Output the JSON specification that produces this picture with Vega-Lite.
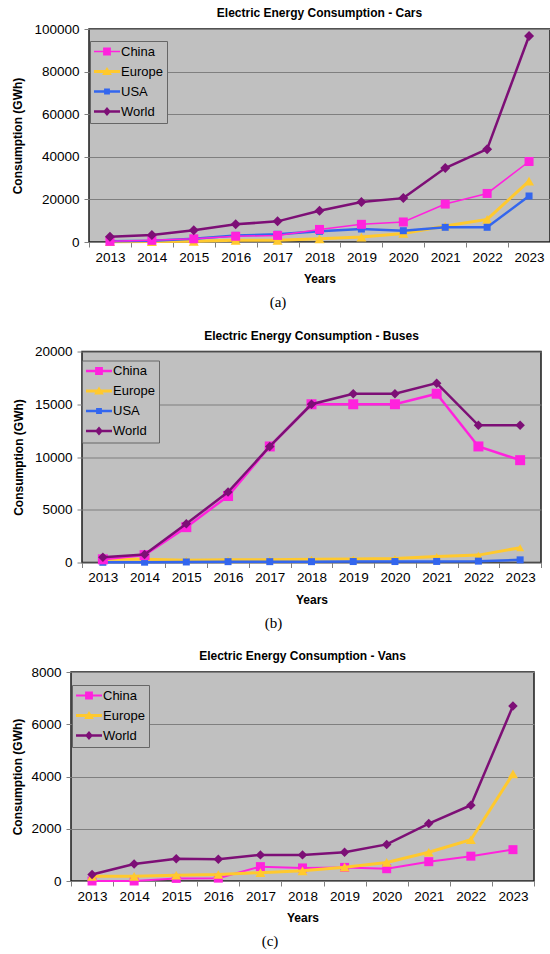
{
  "$schema": "https://vega.github.io/schema/vega-lite/v6.json",
  "background": "white",
  "padding": {"left": 4, "top": 6, "right": 4, "bottom": 4},
  "columns": 1,
  "spacing": 17.5,
  "resolve": {
    "scale": {"color": "independent", "shape": "independent"},
    "legend": {"color": "independent", "shape": "independent"}
  },
  "datasets": {
    "cars": [
      {"year": 2013, "region": "China", "value": 300}, {"year": 2013, "region": "Europe", "value": 100}, {"year": 2013, "region": "USA", "value": 300}, {"year": 2013, "region": "World", "value": 2500},
      {"year": 2014, "region": "China", "value": 800}, {"year": 2014, "region": "Europe", "value": 200}, {"year": 2014, "region": "USA", "value": 600}, {"year": 2014, "region": "World", "value": 3300},
      {"year": 2015, "region": "China", "value": 1500}, {"year": 2015, "region": "Europe", "value": 300}, {"year": 2015, "region": "USA", "value": 1500}, {"year": 2015, "region": "World", "value": 5500},
      {"year": 2016, "region": "China", "value": 2700}, {"year": 2016, "region": "Europe", "value": 800}, {"year": 2016, "region": "USA", "value": 3100}, {"year": 2016, "region": "World", "value": 8300},
      {"year": 2017, "region": "China", "value": 3100}, {"year": 2017, "region": "Europe", "value": 800}, {"year": 2017, "region": "USA", "value": 3600}, {"year": 2017, "region": "World", "value": 9700},
      {"year": 2018, "region": "China", "value": 5900}, {"year": 2018, "region": "Europe", "value": 1500}, {"year": 2018, "region": "USA", "value": 5000}, {"year": 2018, "region": "World", "value": 14700},
      {"year": 2019, "region": "China", "value": 8300}, {"year": 2019, "region": "Europe", "value": 2300}, {"year": 2019, "region": "USA", "value": 6100}, {"year": 2019, "region": "World", "value": 18800},
      {"year": 2020, "region": "China", "value": 9400}, {"year": 2020, "region": "Europe", "value": 4000}, {"year": 2020, "region": "USA", "value": 5300}, {"year": 2020, "region": "World", "value": 20600},
      {"year": 2021, "region": "China", "value": 17800}, {"year": 2021, "region": "Europe", "value": 7500}, {"year": 2021, "region": "USA", "value": 6900}, {"year": 2021, "region": "World", "value": 34700},
      {"year": 2022, "region": "China", "value": 22800}, {"year": 2022, "region": "Europe", "value": 10600}, {"year": 2022, "region": "USA", "value": 6900}, {"year": 2022, "region": "World", "value": 43600},
      {"year": 2023, "region": "China", "value": 37800}, {"year": 2023, "region": "Europe", "value": 28600}, {"year": 2023, "region": "USA", "value": 21600}, {"year": 2023, "region": "World", "value": 96700}
    ],
    "buses": [
      {"year": 2013, "region": "China", "value": 300}, {"year": 2013, "region": "Europe", "value": 300}, {"year": 2013, "region": "USA", "value": 20}, {"year": 2013, "region": "World", "value": 500},
      {"year": 2014, "region": "China", "value": 700}, {"year": 2014, "region": "Europe", "value": 300}, {"year": 2014, "region": "USA", "value": 30}, {"year": 2014, "region": "World", "value": 760},
      {"year": 2015, "region": "China", "value": 3350}, {"year": 2015, "region": "Europe", "value": 220}, {"year": 2015, "region": "USA", "value": 50}, {"year": 2015, "region": "World", "value": 3670},
      {"year": 2016, "region": "China", "value": 6300}, {"year": 2016, "region": "Europe", "value": 250}, {"year": 2016, "region": "USA", "value": 80}, {"year": 2016, "region": "World", "value": 6680},
      {"year": 2017, "region": "China", "value": 11000}, {"year": 2017, "region": "Europe", "value": 250}, {"year": 2017, "region": "USA", "value": 80}, {"year": 2017, "region": "World", "value": 11000},
      {"year": 2018, "region": "China", "value": 15000}, {"year": 2018, "region": "Europe", "value": 300}, {"year": 2018, "region": "USA", "value": 80}, {"year": 2018, "region": "World", "value": 15000},
      {"year": 2019, "region": "China", "value": 15000}, {"year": 2019, "region": "Europe", "value": 320}, {"year": 2019, "region": "USA", "value": 90}, {"year": 2019, "region": "World", "value": 16000},
      {"year": 2020, "region": "China", "value": 15000}, {"year": 2020, "region": "Europe", "value": 380}, {"year": 2020, "region": "USA", "value": 90}, {"year": 2020, "region": "World", "value": 16000},
      {"year": 2021, "region": "China", "value": 16000}, {"year": 2021, "region": "Europe", "value": 570}, {"year": 2021, "region": "USA", "value": 100}, {"year": 2021, "region": "World", "value": 17000},
      {"year": 2022, "region": "China", "value": 11000}, {"year": 2022, "region": "Europe", "value": 700}, {"year": 2022, "region": "USA", "value": 130}, {"year": 2022, "region": "World", "value": 13000},
      {"year": 2023, "region": "China", "value": 9700}, {"year": 2023, "region": "Europe", "value": 1400}, {"year": 2023, "region": "USA", "value": 250}, {"year": 2023, "region": "World", "value": 13000}
    ],
    "vans": [
      {"year": 2013, "region": "China", "value": 0}, {"year": 2013, "region": "Europe", "value": 180}, {"year": 2013, "region": "World", "value": 250},
      {"year": 2014, "region": "China", "value": 0}, {"year": 2014, "region": "Europe", "value": 180}, {"year": 2014, "region": "World", "value": 650},
      {"year": 2015, "region": "China", "value": 100}, {"year": 2015, "region": "Europe", "value": 220}, {"year": 2015, "region": "World", "value": 850},
      {"year": 2016, "region": "China", "value": 110}, {"year": 2016, "region": "Europe", "value": 250}, {"year": 2016, "region": "World", "value": 830},
      {"year": 2017, "region": "China", "value": 550}, {"year": 2017, "region": "Europe", "value": 320}, {"year": 2017, "region": "World", "value": 1000},
      {"year": 2018, "region": "China", "value": 500}, {"year": 2018, "region": "Europe", "value": 390}, {"year": 2018, "region": "World", "value": 1000},
      {"year": 2019, "region": "China", "value": 520}, {"year": 2019, "region": "Europe", "value": 530}, {"year": 2019, "region": "World", "value": 1100},
      {"year": 2020, "region": "China", "value": 470}, {"year": 2020, "region": "Europe", "value": 710}, {"year": 2020, "region": "World", "value": 1400},
      {"year": 2021, "region": "China", "value": 740}, {"year": 2021, "region": "Europe", "value": 1100}, {"year": 2021, "region": "World", "value": 2200},
      {"year": 2022, "region": "China", "value": 950}, {"year": 2022, "region": "Europe", "value": 1580}, {"year": 2022, "region": "World", "value": 2900},
      {"year": 2023, "region": "China", "value": 1200}, {"year": 2023, "region": "Europe", "value": 4100}, {"year": 2023, "region": "World", "value": 6700}
    ]
  },
  "concat": [
    {
      "title": {"text": "(a)", "orient": "bottom", "anchor": "middle", "frame": "bounds", "font": "Liberation Serif", "fontSize": 15, "fontWeight": "normal", "offset": 10},
      "spacing": 0,
      "resolve": {
        "scale": {"color": "independent", "shape": "independent"},
        "legend": {"color": "independent", "shape": "independent"}
      },
      "hconcat": [
        {"width": 1, "height": 1, "view": {"fill": null, "stroke": null}, "data": {"values": [{}]}, "mark": {"type": "point", "opacity": 0}},
        {
          "title": "Electric Energy Consumption - Cars",
          "width": 461,
          "height": 213,
          "data": {"name": "cars"},
          "encoding": {
            "x": {"field": "year", "type": "ordinal", "bandPosition": 0.5, "scale": {"type": "band", "paddingInner": 0, "paddingOuter": 0}, "axis": {"title": "Years"}},
            "y": {"field": "value", "type": "quantitative", "scale": {"domain": [0, 100000], "nice": false}, "axis": {"title": "Consumption (GWh)", "values": [0, 20000, 40000, 60000, 80000, 100000]}}
          },
          "layer": [
            {
              "transform": [{"filter": "datum.region === 'Europe'"}],
              "mark": {"type": "line", "color": "#ffc92e", "strokeWidth": 3, "point": {"shape": "triangle-up", "filled": true, "opacity": 1, "size": 100, "color": "#ffc92e"}}
            },
            {
              "transform": [{"filter": "datum.region === 'USA'"}],
              "mark": {"type": "line", "color": "#3366ee", "strokeWidth": 2.5, "point": {"shape": "square", "filled": true, "opacity": 1, "size": 49, "color": "#3366ee"}}
            },
            {
              "transform": [{"filter": "datum.region === 'China'"}],
              "mark": {"type": "line", "color": "#ff22dd", "strokeWidth": 1.5, "point": {"shape": "square", "filled": true, "opacity": 1, "size": 81, "color": "#ff22dd"}}
            },
            {
              "transform": [{"filter": "datum.region === 'World'"}],
              "mark": {"type": "line", "color": "#7d0f76", "strokeWidth": 2.5, "point": {"shape": "diamond", "filled": true, "opacity": 1, "size": 100, "color": "#7d0f76"}}
            },
            {
              "transform": [{"filter": "datum.value < 0"}],
              "mark": {"type": "point", "filled": true, "opacity": 1, "size": 169},
              "encoding": {
                "color": {"field": "region", "type": "nominal", "title": null, "legend": {"orient": "none", "legendX": 1, "legendY": 12}, "scale": {"domain": ["China", "Europe", "USA", "World"], "range": ["#ff22dd", "#ffc92e", "#3366ee", "#7d0f76"]}},
                "shape": {"field": "region", "type": "nominal", "title": null, "legend": {"orient": "none", "legendX": 1, "legendY": 12}, "scale": {"domain": ["China", "Europe", "USA", "World"], "range": [
                  "M-1,-0.13H3V0.13H-1Z M0.4,-0.6H1.6V0.6H0.4Z",
                  "M-1,-0.22H3V0.22H-1Z M1,-0.7L1.75,0.55H0.25Z",
                  "M-1,-0.19H3V0.19H-1Z M0.55,-0.45H1.45V0.45H0.55Z",
                  "M-1,-0.19H3V0.19H-1Z M1,-0.7L1.6,0L1,0.7L0.4,0Z"
                ]}}
              }
            }
          ]
        }
      ]
    },
    {
      "title": {"text": "(b)", "orient": "bottom", "anchor": "middle", "frame": "bounds", "font": "Liberation Serif", "fontSize": 15, "fontWeight": "normal", "offset": 10},
      "spacing": 0,
      "resolve": {
        "scale": {"color": "independent", "shape": "independent"},
        "legend": {"color": "independent", "shape": "independent"}
      },
      "hconcat": [
        {"width": 1, "height": 1, "view": {"fill": null, "stroke": null}, "data": {"values": [{}]}, "mark": {"type": "point", "opacity": 0}},
        {
          "title": "Electric Energy Consumption - Buses",
          "width": 459,
          "height": 211,
          "data": {"name": "buses"},
          "encoding": {
            "x": {"field": "year", "type": "ordinal", "bandPosition": 0.5, "scale": {"type": "band", "paddingInner": 0, "paddingOuter": 0}, "axis": {"title": "Years"}},
            "y": {"field": "value", "type": "quantitative", "scale": {"domain": [0, 20000], "nice": false}, "axis": {"title": "Consumption (GWh)", "values": [0, 5000, 10000, 15000, 20000]}}
          },
          "layer": [
            {
              "transform": [{"filter": "datum.region === 'Europe'"}],
              "mark": {"type": "line", "color": "#ffc92e", "strokeWidth": 3, "point": {"shape": "triangle-up", "filled": true, "opacity": 1, "size": 64, "color": "#ffc92e"}}
            },
            {
              "transform": [{"filter": "datum.region === 'USA'"}],
              "mark": {"type": "line", "color": "#3366ee", "strokeWidth": 2.5, "point": {"shape": "square", "filled": true, "opacity": 1, "size": 49, "color": "#3366ee"}}
            },
            {
              "transform": [{"filter": "datum.region === 'China'"}],
              "mark": {"type": "line", "color": "#ff22dd", "strokeWidth": 2.5, "point": {"shape": "square", "filled": true, "opacity": 1, "size": 100, "color": "#ff22dd"}}
            },
            {
              "transform": [{"filter": "datum.region === 'World'"}],
              "mark": {"type": "line", "color": "#7d0f76", "strokeWidth": 2.5, "point": {"shape": "diamond", "filled": true, "opacity": 1, "size": 90, "color": "#7d0f76"}}
            },
            {
              "transform": [{"filter": "datum.value < 0"}],
              "mark": {"type": "point", "filled": true, "opacity": 1, "size": 169},
              "encoding": {
                "color": {"field": "region", "type": "nominal", "title": null, "legend": {"orient": "none", "legendX": 0, "legendY": 9}, "scale": {"domain": ["China", "Europe", "USA", "World"], "range": ["#ff22dd", "#ffc92e", "#3366ee", "#7d0f76"]}},
                "shape": {"field": "region", "type": "nominal", "title": null, "legend": {"orient": "none", "legendX": 0, "legendY": 9}, "scale": {"domain": ["China", "Europe", "USA", "World"], "range": [
                  "M-1,-0.2H3V0.2H-1Z M0.4,-0.6H1.6V0.6H0.4Z",
                  "M-1,-0.22H3V0.22H-1Z M1,-0.7L1.75,0.55H0.25Z",
                  "M-1,-0.19H3V0.19H-1Z M0.55,-0.45H1.45V0.45H0.55Z",
                  "M-1,-0.19H3V0.19H-1Z M1,-0.7L1.6,0L1,0.7L0.4,0Z"
                ]}}
              }
            }
          ]
        }
      ]
    },
    {
      "title": {"text": "(c)", "orient": "bottom", "anchor": "middle", "frame": "bounds", "font": "Liberation Serif", "fontSize": 15, "fontWeight": "normal", "offset": 10},
      "spacing": 0,
      "resolve": {
        "scale": {"color": "independent", "shape": "independent"},
        "legend": {"color": "independent", "shape": "independent"}
      },
      "hconcat": [
        {"width": 1, "height": 1, "view": {"fill": null, "stroke": null}, "data": {"values": [{}]}, "mark": {"type": "point", "opacity": 0}},
        {
          "title": "Electric Energy Consumption - Vans",
          "width": 463,
          "height": 209,
          "data": {"name": "vans"},
          "encoding": {
            "x": {"field": "year", "type": "ordinal", "bandPosition": 0.5, "scale": {"type": "band", "paddingInner": 0, "paddingOuter": 0}, "axis": {"title": "Years"}},
            "y": {"field": "value", "type": "quantitative", "scale": {"domain": [0, 8000], "nice": false}, "axis": {"title": "Consumption (GWh)", "titlePadding": 6, "values": [0, 2000, 4000, 6000, 8000]}}
          },
          "layer": [
            {
              "transform": [{"filter": "datum.region === 'China'"}],
              "mark": {"type": "line", "color": "#ff22dd", "strokeWidth": 2, "point": {"shape": "square", "filled": true, "opacity": 1, "size": 81, "color": "#ff22dd"}}
            },
            {
              "transform": [{"filter": "datum.region === 'Europe'"}],
              "mark": {"type": "line", "color": "#ffc92e", "strokeWidth": 3, "point": {"shape": "triangle-up", "filled": true, "opacity": 1, "size": 100, "color": "#ffc92e"}}
            },
            {
              "transform": [{"filter": "datum.region === 'World'"}],
              "mark": {"type": "line", "color": "#7d0f76", "strokeWidth": 2.5, "point": {"shape": "diamond", "filled": true, "opacity": 1, "size": 90, "color": "#7d0f76"}}
            },
            {
              "transform": [{"filter": "datum.value < 0"}],
              "mark": {"type": "point", "filled": true, "opacity": 1, "size": 169},
              "encoding": {
                "color": {"field": "region", "type": "nominal", "title": null, "legend": {"orient": "none", "legendX": 1, "legendY": 13}, "scale": {"domain": ["China", "Europe", "World"], "range": ["#ff22dd", "#ffc92e", "#7d0f76"]}},
                "shape": {"field": "region", "type": "nominal", "title": null, "legend": {"orient": "none", "legendX": 1, "legendY": 13}, "scale": {"domain": ["China", "Europe", "World"], "range": [
                  "M-1,-0.16H3V0.16H-1Z M0.4,-0.6H1.6V0.6H0.4Z",
                  "M-1,-0.22H3V0.22H-1Z M1,-0.7L1.75,0.55H0.25Z",
                  "M-1,-0.19H3V0.19H-1Z M1,-0.7L1.6,0L1,0.7L0.4,0Z"
                ]}}
              }
            }
          ]
        }
      ]
    }
  ],
  "config": {
    "font": "Liberation Sans",
    "view": {"fill": "#c0c0c0", "stroke": "#1a1a1a", "strokeWidth": 1.5},
    "title": {"font": "Liberation Sans", "fontSize": 12, "fontWeight": "bold", "color": "#000000", "offset": 2, "anchor": "middle", "frame": "group"},
    "axis": {
      "labelFont": "Liberation Sans", "labelFontSize": 13.5, "labelColor": "#000000",
      "titleFont": "Liberation Sans", "titleFontSize": 12, "titleFontWeight": "bold", "titleColor": "#000000",
      "tickColor": "#808080", "tickSize": 5, "domain": false
    },
    "axisX": {"labelAngle": 0, "grid": false, "tickBand": "extent", "labelPadding": 3, "titlePadding": 10},
    "axisY": {"grid": true, "gridColor": "#7f7f7f", "gridWidth": 1, "labelPadding": 5, "titlePadding": 9, "format": "d"},
    "legend": {
      "fillColor": "#c0c0c0", "strokeColor": "#666666", "padding": 4, "cornerRadius": 0,
      "labelFont": "Liberation Sans", "labelFontSize": 13, "labelColor": "#000000",
      "symbolSize": 169, "symbolOffset": 0, "labelOffset": 14, "rowPadding": 6,
      "symbolStrokeWidth": 0, "symbolOpacity": 1
    }
  }
}
